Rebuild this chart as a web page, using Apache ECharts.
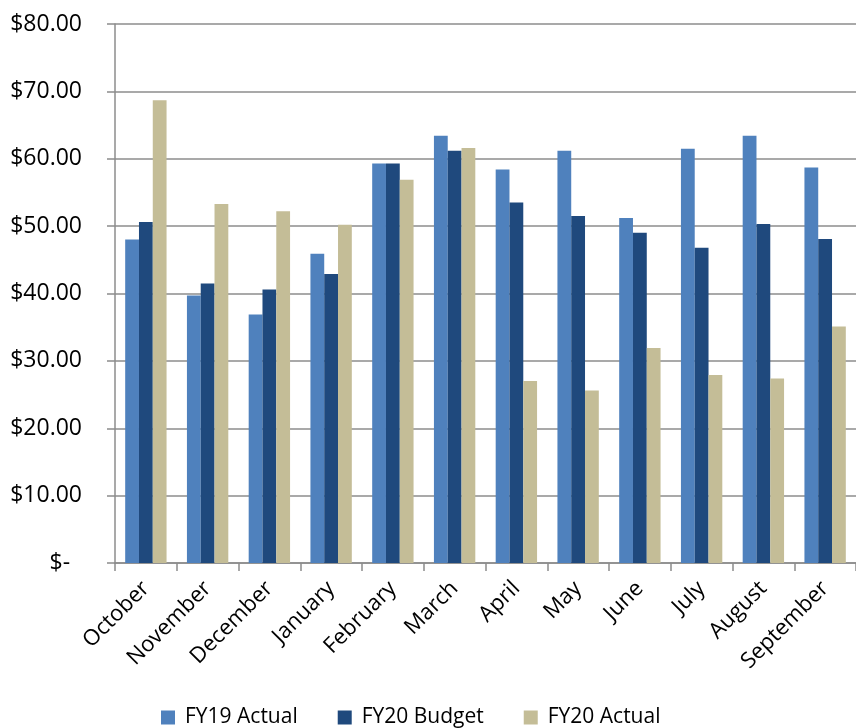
<!DOCTYPE html>
<html>
<head>
<meta charset="utf-8">
<script src="https://cdn.jsdelivr.net/npm/echarts@6/dist/echarts.min.js"></script>
<style>
  html, body { margin: 0; padding: 0; background: #fff; }
  #chart { width: 856px; height: 728px; }
</style>
</head>
<body>
<div id="chart"></div>
<script>
// months of the fiscal year
const months = ['October', 'November', 'December', 'January', 'February', 'March',
  'April', 'May', 'June', 'July', 'August', 'September'];

const fy19Actual = [48.0, 39.7, 36.9, 45.9, 59.3, 63.4, 58.4, 61.2, 51.2, 61.5, 63.4, 58.7];
const fy20Budget = [50.6, 41.5, 40.6, 42.9, 59.3, 61.2, 53.5, 51.5, 49.0, 46.8, 50.3, 48.1];
const fy20Actual = [68.7, 53.3, 52.2, 50.2, 56.9, 61.6, 27.0, 25.6, 31.9, 27.9, 27.4, 35.1];

const seriesNames = ['FY19 Actual', 'FY20 Budget', 'FY20 Actual'];
const colors = ['#4f81bd', '#1f497d', '#c4bd97'];

const chartInstance = echarts.init(document.getElementById('chart'));
const font = '"Open Sans", sans-serif';
const gray = '#8c8c8c';

const option = {
  animation: false,
  color: colors,
  grid: { left: 115, top: 24, right: -2, bottom: 165, containLabel: false },
  legend: {
    bottom: 0,
    left: 161,
    padding: 0,
    itemWidth: 14,
    itemHeight: 14,
    itemGap: 40,
    icon: 'rect',
    textStyle: { fontFamily: font, fontSize: 21, color: '#000', padding: [0, 0, 0, 5] },
    data: seriesNames
  },
  xAxis: {
    type: 'category',
    data: months,
    axisLine: { lineStyle: { color: gray, width: 1.5 } },
    axisTick: { show: true, length: 8, lineStyle: { color: gray, width: 1.5 } },
    axisLabel: {
      rotate: 45,
      margin: 22,
      interval: 0,
      color: '#000',
      fontFamily: font,
      fontSize: 22
    }
  },
  yAxis: {
    type: 'value',
    min: 0,
    max: 80,
    interval: 10,
    axisLine: { show: true, lineStyle: { color: gray, width: 1.5 } },
    axisTick: { show: true, length: 8, lineStyle: { color: gray, width: 1.5 } },
    splitLine: { lineStyle: { color: gray, width: 1.5 } },
    axisLabel: {
      margin: 33,
      color: '#000',
      fontFamily: font,
      fontSize: 23,
      formatter: v => v === 0 ? '$-  ' : '$' + v.toFixed(2)
    }
  },
  series: [
    { name: seriesNames[0], type: 'bar', data: fy19Actual, barGap: '0%', barCategoryGap: '33%' },
    { name: seriesNames[1], type: 'bar', data: fy20Budget, barGap: '0%', barCategoryGap: '33%' },
    { name: seriesNames[2], type: 'bar', data: fy20Actual, barGap: '0%', barCategoryGap: '33%' }
  ]
};

chartInstance.setOption(option);
</script>
</body>
</html>
